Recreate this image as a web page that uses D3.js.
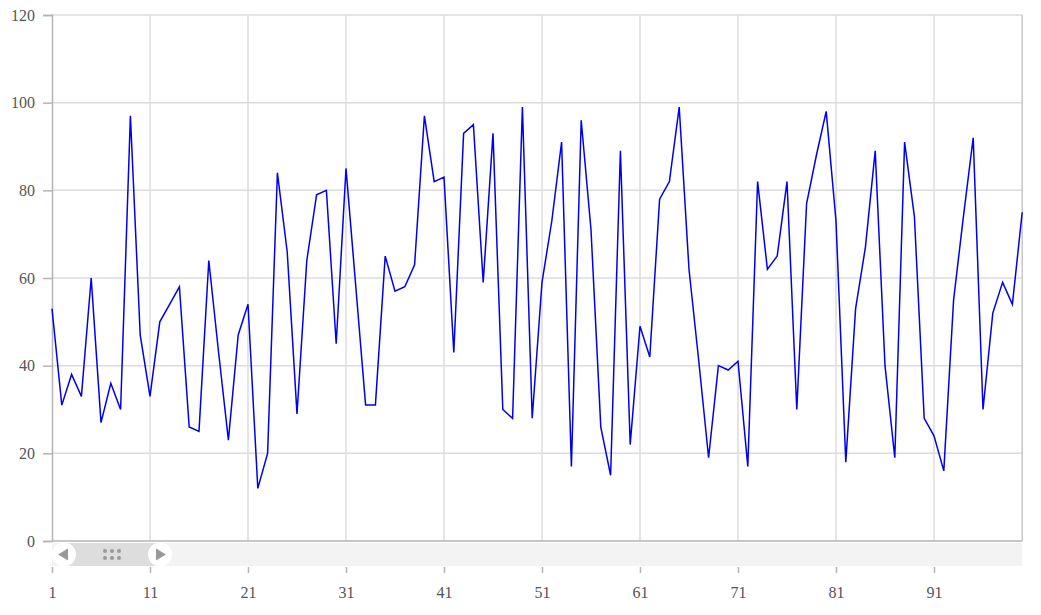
<!DOCTYPE html>
<html>
<head>
<meta charset="utf-8">
<script src="https://cdn.jsdelivr.net/npm/d3@7"></script>
<style>
  html, body { margin: 0; padding: 0; background: #fff; }
  svg { display: block; }
  .tick text { font-family: "Liberation Serif", "Times New Roman", serif; font-size: 16px; fill: #555; }
</style>
</head>
<body>
<svg id="chart" width="1041" height="615"></svg>
<script>
// ---- data ----
const categories = d3.range(1, 101);
const values = [
  53, 31, 38, 33, 60, 27, 36, 30, 97, 47,
  33, 50, 54, 58, 26, 25, 64, 43, 23, 47,
  54, 12, 20, 84, 66, 29, 64, 79, 80, 45,
  85, 58, 31, 31, 65, 57, 58, 63, 97, 82,
  83, 43, 93, 95, 59, 93, 30, 28, 99, 28,
  59, 73, 91, 17, 96, 71, 26, 15, 89, 22,
  49, 42, 78, 82, 99, 62, 41, 19, 40, 39,
  41, 17, 82, 62, 65, 82, 30, 77, 88, 98,
  73, 18, 53, 67, 89, 40, 19, 91, 74, 28,
  24, 16, 55, 74, 92, 30, 52, 59, 54, 75
];
const xTickLabels = [1, 11, 21, 31, 41, 51, 61, 71, 81, 91];
const yTickLabels = [0, 20, 40, 60, 80, 100, 120];

(function () {
// ---- layout ----
const svg = d3.select("#chart");
const pL = 52, pR = 1022.2, pT = 15, pB = 541;

const x = d3.scaleLinear().domain([1, 100]).range([pL, pR]);
const y = d3.scaleLinear().domain([0, 120]).range([pB, pT]);

// horizontal grid
svg.append("g")
  .selectAll("line")
  .data(yTickLabels.filter(v => v > 0))
  .join("line")
  .attr("x1", pL).attr("x2", pR)
  .attr("y1", d => y(d)).attr("y2", d => y(d))
  .attr("stroke", "#dcdcdc").attr("stroke-width", 1.5);

// vertical grid
svg.append("g")
  .selectAll("line")
  .data(xTickLabels.filter(v => v > 1))
  .join("line")
  .attr("x1", d => x(d)).attr("x2", d => x(d))
  .attr("y1", pT).attr("y2", pB)
  .attr("stroke", "#dcdcdc").attr("stroke-width", 1.5);

// right border
svg.append("line")
  .attr("x1", pR).attr("x2", pR).attr("y1", pT).attr("y2", pB)
  .attr("stroke", "#c8c8c8").attr("stroke-width", 1.5);

// bottom baseline
svg.append("line")
  .attr("x1", pL).attr("x2", pR).attr("y1", pB).attr("y2", pB)
  .attr("stroke", "#b4b4b4").attr("stroke-width", 1.5);

// y axis
const yAxis = svg.append("g")
  .attr("transform", `translate(${pL},0)`)
  .call(d3.axisLeft(y).tickValues(yTickLabels).tickSize(9).tickPadding(8));
yAxis.select(".domain").attr("stroke", "#b4b4b4").attr("stroke-width", 1.5);
yAxis.selectAll(".tick line").attr("stroke", "#b4b4b4").attr("stroke-width", 1.5);

// line
const line = d3.line().x((d, i) => x(categories[i])).y(d => y(d));
svg.append("path")
  .datum(values)
  .attr("d", line)
  .attr("fill", "none")
  .attr("stroke", "#0000f0")
  .attr("stroke-width", 1.5)
  .attr("stroke-linejoin", "miter");

// slider (scrollbar)
const sy = 543, sh = 23, sc = sy + sh / 2;
const slider = svg.append("g");
slider.append("rect")
  .attr("x", pL).attr("y", sy).attr("width", pR - pL).attr("height", sh)
  .attr("fill", "#f3f3f3");
const hL = pL + 12, hR = x(11) + 10;
slider.append("rect")
  .attr("x", hL).attr("y", sy).attr("width", hR - hL).attr("height", sh)
  .attr("fill", "#dddddd");
[hL, hR].forEach(cx => {
  slider.append("circle").attr("cx", cx).attr("cy", sc).attr("r", 12).attr("fill", "#fff");
});
slider.append("path")
  .attr("d", `M${hL - 6},${sc} L${hL + 4},${sc - 6} L${hL + 4},${sc + 6} Z`)
  .attr("fill", "#999");
slider.append("path")
  .attr("d", `M${hR + 6},${sc} L${hR - 4},${sc - 6} L${hR - 4},${sc + 6} Z`)
  .attr("fill", "#999");
const gx = (hL + hR) / 2;
[-7, 0, 7].forEach(dx => [-3.5, 3.5].forEach(dy => {
  slider.append("circle").attr("cx", gx + dx).attr("cy", sc + dy).attr("r", 2).attr("fill", "#999");
}));

// x axis
const xAxis = svg.append("g")
  .attr("transform", `translate(0,567)`)
  .call(d3.axisBottom(x).tickValues(xTickLabels).tickSize(6).tickPadding(14).tickFormat(d3.format("d")));
xAxis.select(".domain").remove();
xAxis.selectAll(".tick line").attr("stroke", "#b4b4b4").attr("stroke-width", 1.5);
})();
</script>
</body>
</html>
